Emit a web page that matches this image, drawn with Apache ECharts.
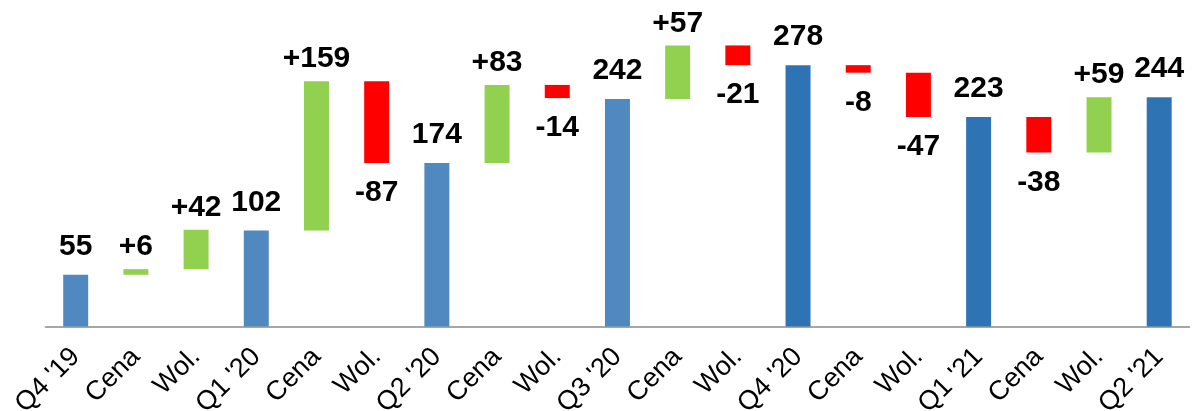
<!DOCTYPE html>
<html>
<head>
<meta charset="utf-8">
<script src="https://cdn.jsdelivr.net/npm/echarts@6/dist/echarts.min.js"></script>
<style>
  html, body { margin: 0; padding: 0; background: #fff; }
  #chart { width: 1192px; height: 411px; }
</style>
</head>
<body>
<div id="chart"></div>
<script>
const categories = ["Q4 '19", 'Cena', 'Wol.', "Q1 '20", 'Cena', 'Wol.', "Q2 '20", 'Cena', 'Wol.',
  "Q3 '20", 'Cena', 'Wol.', "Q4 '20", 'Cena', 'Wol.', "Q1 '21", 'Cena', 'Wol.', "Q2 '21"];
const values = [55, 6, 42, 102, 159, -87, 174, 83, -14, 242, 57, -21, 278, -8, -47, 223, -38, 59, 244];
const kinds = ['total', 'delta', 'delta', 'total', 'delta', 'delta', 'total', 'delta', 'delta',
  'total', 'delta', 'delta', 'total', 'delta', 'delta', 'total', 'delta', 'delta', 'total'];

// waterfall: transparent base + visible part
const base = [];
const visible = [];
let running = 0;
values.forEach((v, i) => {
    if (kinds[i] === 'total') {
        base.push(0);
        visible.push(v);
        running = v;
    } else {
        base.push(v >= 0 ? running : running + v);
        visible.push(Math.abs(v));
        running += v;
    }
});

const lightBlue = '#4f89bf';
const darkBlue = '#2e74b5';
const green = '#92d050';
const red = '#ff0000';

const barData = visible.map((h, i) => {
    const v = values[i];
    let color, text, pos, dist;
    if (kinds[i] === 'total') {
        color = i < 12 ? lightBlue : darkBlue;
        text = String(v);
        pos = 'top';
        dist = 13;
    } else if (v >= 0) {
        color = green;
        text = '+' + v;
        pos = 'top';
        dist = 7;
    } else {
        color = red;
        text = String(v);
        pos = 'bottom';
        dist = 15;
    }
    return {
        value: h,
        itemStyle: {color: color},
        label: {show: true, position: pos, distance: dist, formatter: text}
    };
});

const chart = echarts.init(document.getElementById('chart'));
chart.setOption({
    animation: false,
    grid: {left: 45.6, right: 2.7, top: 44.5, bottom: 84.5, outerBoundsMode: 'none'},
    xAxis: {
        type: 'category',
        data: categories,
        axisTick: {show: false},
        axisLine: {lineStyle: {color: '#a6a6a6', width: 2}},
        axisLabel: {
            interval: 0,
            rotate: 45,
            margin: 26,
            fontSize: 27,
            color: '#000',
            fontFamily: 'Liberation Sans, Arial, sans-serif'
        }
    },
    yAxis: {
        type: 'value',
        min: 0,
        max: 300,
        show: false,
        splitLine: {show: false}
    },
    series: [
        {
            type: 'bar',
            stack: 'wf',
            data: base,
            barWidth: '41.5%',
            itemStyle: {color: 'transparent'},
            silent: true
        },
        {
            type: 'bar',
            stack: 'wf',
            data: barData,
            barWidth: '41.5%',
            label: {
                fontSize: 30,
                fontWeight: 'bold',
                color: '#000',
                fontFamily: 'Liberation Sans, Arial, sans-serif'
            }
        }
    ]
});
</script>
</body>
</html>
